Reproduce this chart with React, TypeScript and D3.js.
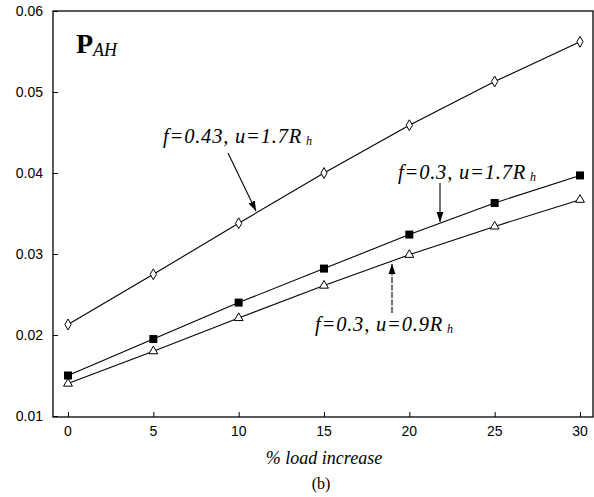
import React, { useEffect, useRef } from "react";
import * as d3 from "d3";

const loads = [0, 5, 10, 15, 20, 25, 30];
const f043u17 = [0.0213, 0.0275, 0.0338, 0.0400, 0.0459, 0.0513, 0.0562];
const f03u17 = [0.0150, 0.0195, 0.0240, 0.0282, 0.0324, 0.0363, 0.0397];
const f03u09 = [0.0140, 0.0180, 0.0221, 0.0261, 0.0299, 0.0334, 0.0367];
const yTicks = [0.01, 0.02, 0.03, 0.04, 0.05, 0.06];
const xTicks = [0, 5, 10, 15, 20, 25, 30];

const serif = "'Liberation Serif', 'Times New Roman', serif";
const sans = "'Liberation Sans', Arial, sans-serif";

export default function App() {
  const svgRef = useRef<SVGSVGElement>(null);

  useEffect(() => {
    const width = 594;
    const height = 497;
    const svg = d3.select(svgRef.current).attr("width", width).attr("height", height);
    svg.selectAll("*").remove();

    const x = d3.scaleLinear().domain([0, 30]).range([68, 580]);
    const y = d3.scaleLinear().domain([0.01, 0.06]).range([416, 11]);

    // frame
    svg.append("rect")
      .attr("x", 53).attr("y", 11)
      .attr("width", 540).attr("height", 406)
      .attr("fill", "none").attr("stroke", "#000").attr("stroke-width", 1.3);

    // y axis, ticks inward
    const yAxis = svg.append("g").attr("transform", "translate(53,0)")
      .call(d3.axisRight(y).tickValues(yTicks).tickSize(5).tickFormat(() => ""));
    yAxis.select(".domain").remove();
    svg.append("g").selectAll("text").data(yTicks).join("text")
      .attr("x", 43).attr("y", (d) => y(d) + 5)
      .attr("text-anchor", "end")
      .attr("font-family", sans).attr("font-size", 14)
      .text((d) => d3.format(".2f")(d));

    // x axis, ticks inward
    const xAxis = svg.append("g").attr("transform", "translate(0,417)")
      .call(d3.axisTop(x).tickValues(xTicks).tickSize(5).tickFormat(() => ""));
    xAxis.select(".domain").remove();
    svg.append("g").selectAll("text").data(xTicks).join("text")
      .attr("x", (d) => x(d)).attr("y", 436)
      .attr("text-anchor", "middle")
      .attr("font-family", sans).attr("font-size", 14)
      .text((d) => d);

    const line = d3.line<number>().x((_, i) => x(loads[i])).y((d) => y(d));
    [f043u17, f03u17, f03u09].forEach((s) => {
      svg.append("path").attr("d", line(s)).attr("fill", "none")
        .attr("stroke", "#000").attr("stroke-width", 1.1);
    });

    const diamond = d3.symbol().type(d3.symbolDiamond).size(34);
    svg.append("g").selectAll("path").data(f043u17).join("path")
      .attr("d", diamond)
      .attr("transform", (d, i) => `translate(${x(loads[i])},${y(d)})`)
      .attr("fill", "#fff").attr("stroke", "#000").attr("stroke-width", 1);

    svg.append("g").selectAll("rect").data(f03u17).join("rect")
      .attr("x", (d, i) => x(loads[i]) - 4).attr("y", (d) => y(d) - 4)
      .attr("width", 8).attr("height", 8).attr("fill", "#000");

    const tri = d3.symbol().type(d3.symbolTriangle).size(34);
    svg.append("g").selectAll("path").data(f03u09).join("path")
      .attr("d", tri)
      .attr("transform", (d, i) => `translate(${x(loads[i])},${y(d)})`)
      .attr("fill", "#fff").attr("stroke", "#000").attr("stroke-width", 1);

    // arrows
    const defs = svg.append("defs");
    defs.append("marker").attr("id", "ah").attr("viewBox", "0 0 10 10")
      .attr("refX", 10).attr("refY", 5).attr("markerWidth", 10).attr("markerHeight", 10)
      .attr("markerUnits", "userSpaceOnUse").attr("orient", "auto")
      .append("path").attr("d", "M0,1.5 L10,5 L0,8.5 Z").attr("fill", "#000");

    const arrows = [
      [228, 153, 256, 211],
      [440, 183, 440, 222],
      [392, 313, 392, 264],
    ];
    arrows.forEach(([x1, y1, x2, y2], i) => {
      svg.append("line")
        .attr("x1", x1).attr("y1", y1).attr("x2", x2).attr("y2", y2)
        .attr("stroke", "#000").attr("stroke-width", 1.1)
        .attr("stroke-dasharray", i === 2 ? "6,1.5" : null)
        .attr("marker-end", "url(#ah)");
    });

    // curve labels
    const labels = [
      { x: 163, y: 143, f: "0.43", u: "1.7" },
      { x: 398, y: 179, f: "0.3", u: "1.7" },
      { x: 315, y: 331, f: "0.3", u: "0.9" },
    ];
    labels.forEach((l) => {
      const t = svg.append("text").attr("x", l.x).attr("y", l.y)
        .attr("font-family", serif).attr("font-style", "italic").attr("font-size", 20.5)
        .attr("letter-spacing", 0.8);
      t.append("tspan").text(`f=${l.f}, u=${l.u}R`);
      t.append("tspan").attr("dx", 4).attr("dy", 2).attr("font-size", 12).text("h");
    });

    // panel title
    const title = svg.append("text").attr("x", 76).attr("y", 53).attr("font-family", serif);
    title.append("tspan").attr("font-weight", "bold").attr("font-size", 28).text("P");
    title.append("tspan").attr("font-style", "italic").attr("font-size", 18).attr("dy", 3).text("AH");

    svg.append("text").attr("x", 324).attr("y", 464).attr("text-anchor", "middle")
      .attr("font-family", serif).attr("font-style", "italic").attr("font-size", 18)
      .text("% load increase");

    svg.append("text").attr("x", 321).attr("y", 489).attr("text-anchor", "middle")
      .attr("font-family", serif).attr("font-size", 16)
      .text("(b)");
  }, []);

  return (
    <div style={{ position: "absolute", left: 0, top: 0 }}>
      <svg ref={svgRef} style={{ display: "block" }}></svg>
    </div>
  );
}
